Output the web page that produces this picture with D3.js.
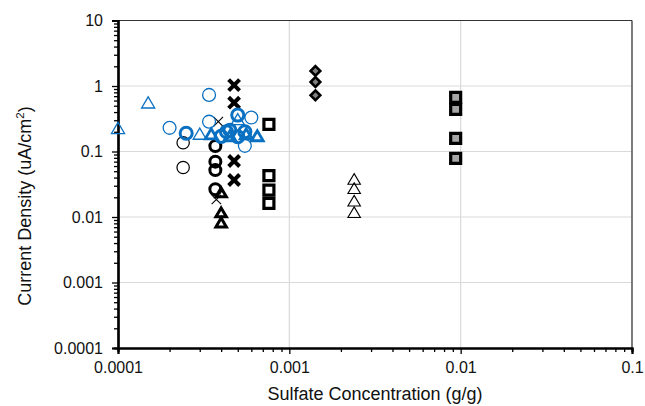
<!DOCTYPE html>
<html><head><meta charset="utf-8">
<script src="https://cdn.jsdelivr.net/npm/d3@7"></script>
<style>body{margin:0;background:#fff}svg{display:block}text{font-family:"Liberation Sans",Arial,sans-serif}</style>
</head><body><svg id="c" width="645" height="406"></svg>
<script>
// ---- data ----
const xTicks = [0.0001, 0.001, 0.01, 0.1];
const yTicks = [0.0001, 0.001, 0.01, 0.1, 1, 10];
const xTickLabels = ["0.0001", "0.001", "0.01", "0.1"];
const yTickLabels = ["0.0001", "0.001", "0.01", "0.1", "1", "10"];

const blackThinCircX = [0.00024, 0.00024];
const blackThinCircY = [0.136, 0.057];
const blackThickCircX = [0.00037, 0.00037, 0.00037, 0.00037];
const blackThickCircY = [0.121, 0.07, 0.052, 0.0265];
const blackThickTriX = [0.0004, 0.0004, 0.0004];
const blackThickTriY = [0.023, 0.0114, 0.008];
const blackThinXX = [0.000385, 0.000375];
const blackThinXY = [0.285, 0.0185];
const blackThickXX = [0.000476, 0.000476, 0.000476, 0.000476];
const blackThickXY = [1.03, 0.556, 0.0716, 0.0367];
const blackSquareX = [0.00076, 0.00076, 0.00076, 0.00076];
const blackSquareY = [0.26, 0.0427, 0.0258, 0.0162];
const grayDiamondX = [0.00142, 0.00142, 0.00142];
const grayDiamondY = [1.7, 1.15, 0.72];
const blackThinTriX = [0.00239, 0.00239, 0.00239, 0.00239];
const blackThinTriY = [0.0367, 0.0265, 0.0171, 0.0114];
const graySquareX = [0.00935, 0.00935, 0.00935, 0.00935];
const graySquareY = [0.672, 0.44, 0.159, 0.0787];

const blueThinTriX = [0.0001, 0.00015, 0.0003, 0.0005];
const blueThinTriY = [0.22, 0.54, 0.18, 0.30];
const blueThinCircX = [0.0002, 0.00034, 0.00034, 0.0006, 0.00055];
const blueThinCircY = [0.23, 0.73, 0.285, 0.33, 0.122];
const blueThickCircX = [0.00025, 0.0004, 0.00043, 0.00045, 0.0005, 0.0005, 0.00055];
const blueThickCircY = [0.19, 0.17, 0.2, 0.21, 0.36, 0.168, 0.2];
const blueThickTriX = [0.00035, 0.00045, 0.00056, 0.00065];
const blueThickTriY = [0.18, 0.168, 0.18, 0.168];

// ---- layout ----
const svg = d3.select("#c");
const L = 118, R = 632, T = 20.5, B = 348;
const x = d3.scaleLog().domain([0.0001, 0.1]).range([L, R]);
const y = d3.scaleLog().domain([0.0001, 10]).range([B, T]);
const BLUE = "#0a70c2";
const FONT = '"Liberation Sans", Arial, sans-serif';

// gridlines
const g = svg.append("g");
g.selectAll(".gx").data(xTicks.slice(1)).enter().append("line")
  .attr("x1", d => x(d)).attr("x2", d => x(d)).attr("y1", T).attr("y2", B)
  .attr("stroke", "#d9d9d9").attr("stroke-width", 1.2);
g.selectAll(".gy").data(yTicks.slice(1)).enter().append("line")
  .attr("x1", L).attr("x2", R).attr("y1", d => y(d)).attr("y2", d => y(d))
  .attr("stroke", "#d9d9d9").attr("stroke-width", 1.2);
// plot border top/right
svg.append("line").attr("x1", L).attr("x2", R).attr("y1", T).attr("y2", T).attr("stroke", "#333").attr("stroke-width", 1.2);
svg.append("line").attr("x1", R).attr("x2", R).attr("y1", T).attr("y2", B).attr("stroke", "#333").attr("stroke-width", 1.2);

function minors(lo, hi) {
  const out = [];
  for (let e = Math.log10(lo); e < Math.log10(hi); e++)
    for (let k = 2; k <= 9; k++) out.push(k * Math.pow(10, e));
  return out;
}

// axes
const xAxisMinor = d3.axisBottom(x).tickValues(minors(0.0001, 0.1)).tickSize(4).tickFormat("");
const xAxisMajor = d3.axisBottom(x).tickValues(xTicks).tickSize(6).tickPadding(8)
  .tickFormat((d, i) => xTickLabels[i]);
const yAxisMinor = d3.axisLeft(y).tickValues(minors(0.0001, 10)).tickSize(4).tickFormat("");
const yAxisMajor = d3.axisLeft(y).tickValues(yTicks).tickSize(6).tickPadding(9)
  .tickFormat((d, i) => yTickLabels[i]);

function style(sel) {
  sel.select(".domain").attr("stroke", "#000").attr("stroke-width", 2.2);
  sel.selectAll(".tick line").attr("stroke", "#000").attr("stroke-width", 1.3);
  sel.selectAll(".tick text").attr("fill", "#111").style("font-size", "16px")
    .style("font-family", FONT);
}
svg.append("g").attr("transform", `translate(0,${B})`).call(xAxisMinor).call(style);
svg.append("g").attr("transform", `translate(0,${B})`).call(xAxisMajor).call(style);
svg.append("g").attr("transform", `translate(${L},0)`).call(yAxisMinor).call(style);
svg.append("g").attr("transform", `translate(${L},0)`).call(yAxisMajor).call(style);

// axis titles
svg.append("text").attr("x", (L + R) / 2).attr("y", 400).attr("text-anchor", "middle")
  .style("font-size", "18px").attr("fill", "#111").text("Sulfate Concentration (g/g)");
const yt = svg.append("text").attr("transform", `translate(31,206) rotate(-90)`)
  .attr("text-anchor", "middle").style("font-size", "18px").attr("fill", "#111");
yt.append("tspan").text("Current Density (uA/cm");
yt.append("tspan").attr("dy", -7).style("font-size", "11.5px").text("2");
yt.append("tspan").attr("dy", 7).text(")");

// markers
function series(xs, ys, type, size, fill, stroke, sw) {
  const pts = xs.map((v, i) => [v, ys[i]]);
  svg.append("g").selectAll("path").data(pts).enter().append("path")
    .attr("transform", d => `translate(${x(d[0])},${y(d[1])})`)
    .attr("d", d3.symbol().type(type).size(size))
    .attr("fill", fill).attr("stroke", stroke).attr("stroke-width", sw);
}
const triUp = {
  draw(ctx, size) {
    const w = Math.sqrt(size) * 1.25, h = w * 0.85;
    ctx.moveTo(0, -h * 0.6); ctx.lineTo(w / 2, h * 0.4); ctx.lineTo(-w / 2, h * 0.4); ctx.closePath();
  }
};

series(blackThinCircX, blackThinCircY, d3.symbolCircle, 120, "none", "#000", 1.2);
series(blackThickCircX, blackThickCircY, d3.symbolCircle, 95, "none", "#000", 3);
series(blackSquareX, blackSquareY, d3.symbolSquare, 100, "none", "#000", 3.2);
series(graySquareX, graySquareY, d3.symbolSquare, 100, "#a6a6a6", "#000", 3.2);
series(grayDiamondX, grayDiamondY, d3.symbolDiamond2, 60, "#808080", "#000", 2.6);
series(blackThinTriX, blackThinTriY, triUp, 100, "none", "#000", 1.1);
series(blackThickTriX, blackThickTriY, triUp, 70, "none", "#000", 3);
series(blackThickXX, blackThickXY, d3.symbolX, 80, "none", "#000", 4);
series(blackThinXX, blackThinXY, d3.symbolX, 60, "none", "#000", 1.1);

series(blueThinCircX, blueThinCircY, d3.symbolCircle, 130, "none", BLUE, 1.3);
series(blueThinTriX, blueThinTriY, triUp, 110, "none", BLUE, 1.3);
series(blueThickTriX, blueThickTriY, triUp, 90, "none", BLUE, 2.8);
series(blueThickCircX, blueThickCircY, d3.symbolCircle, 115, "none", BLUE, 3);
</script></body></html>
